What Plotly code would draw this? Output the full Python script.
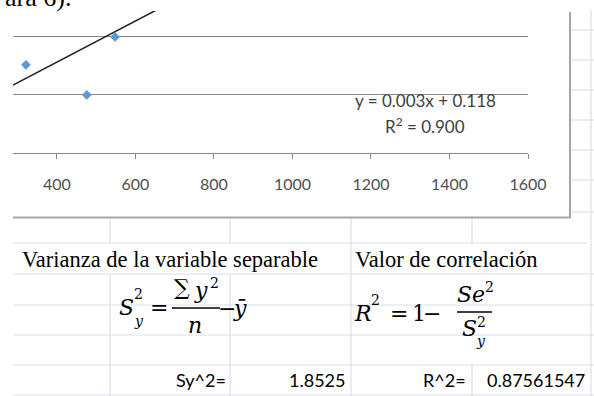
import plotly.graph_objects as go

# ---------------- data ----------------
x_points = [321, 476, 548]
y_points = [1.52, 1.0, 2.0]
trend_x = [288, 700]
trend_y = [1.17, 2.63]
x_ticks = [400, 600, 800, 1000, 1200, 1400, 1600]
y_grid = [1, 2]
eq_label = ["y = 0.003x + 0.118", "R<sup>2</sup> = 0.900"]
headers = ["Varianza de la variable separable", "Valor de correlación"]
result_labels = ["Sy^2=", "R^2="]
result_values = ["1.8525", "0.87561547"]
caption_fragment = "ara 6)."

W, H = 594, 396


def px(x):
    return x / W


def py(y):
    return 1 - y / H


fig = go.Figure()
fig.add_trace(go.Scatter(x=trend_x, y=trend_y, mode="lines",
                         line=dict(color="#262626", width=1.6),
                         hoverinfo="skip", showlegend=False))
fig.add_trace(go.Scatter(x=x_points, y=y_points, mode="markers",
                         marker=dict(symbol="diamond", size=7.5, color="#5B9BD5"),
                         hoverinfo="skip", showlegend=False))

fig.update_layout(
    width=W, height=H, autosize=False,
    margin=dict(l=0, r=0, t=0, b=0, pad=0, autoexpand=False),
    paper_bgcolor="white", plot_bgcolor="rgba(0,0,0,0)",
    showlegend=False,
    xaxis=dict(domain=[px(13), px(528)], range=[288, 1600],
               automargin=False,
               tickmode="array", tickvals=x_ticks,
               ticktext=[str(v) for v in x_ticks],
               showgrid=False, zeroline=False,
               showline=True, linecolor="#868686", linewidth=1,
               ticks="outside", ticklen=5, tickcolor="#868686", tickwidth=1,
               ticklabelstandoff=12,
               tickfont=dict(family="Lato", size=16, color="#505050")),
    yaxis=dict(domain=[py(153), py(11)], range=[0, 2.448],
               automargin=False,
               tickmode="array", tickvals=y_grid,
               showticklabels=False, ticks="",
               showgrid=True, gridcolor="#898989", gridwidth=1,
               zeroline=False, showline=False),
)

shapes = []
grid_c = "#dadfe9"


def hline(x0, x1, y, color=grid_c, w=1.2):
    shapes.append(dict(type="line", xref="paper", yref="paper",
                       x0=px(x0), x1=px(x1), y0=py(y), y1=py(y),
                       line=dict(color=color, width=w), layer="below"))


def vline(x, y0, y1, color=grid_c, w=1.2):
    shapes.append(dict(type="line", xref="paper", yref="paper",
                       x0=px(x), x1=px(x), y0=py(y0), y1=py(y1),
                       line=dict(color=color, width=w), layer="below"))


# spreadsheet grid to the right of the chart
for yy in [30, 60, 90, 120, 150, 180, 212]:
    hline(571, 594, yy)
vline(591, 10, 396)
# spreadsheet grid below the chart
hline(13, 587, 243)
for yy in [274, 305, 335, 365, 395]:
    hline(13, 594, yy)
vline(110, 218, 243)
vline(110, 274, 396)
vline(230, 218, 243)
vline(230, 274, 396)
vline(351, 218, 396)
vline(472, 218, 243)
vline(472, 365, 396)

# chart frame (right and bottom border)
shapes.append(dict(type="line", xref="paper", yref="paper",
                   x0=px(570), x1=px(570), y0=py(12), y1=py(218),
                   line=dict(color="#a6a6a6", width=2)))
shapes.append(dict(type="line", xref="paper", yref="paper",
                   x0=px(13), x1=px(571), y0=py(217.5), y1=py(217.5),
                   line=dict(color="#a6a6a6", width=2)))

# fraction bars
shapes.append(dict(type="line", xref="paper", yref="paper",
                   x0=px(172), x1=px(220), y0=py(308), y1=py(308),
                   line=dict(color="black", width=1.4)))
shapes.append(dict(type="line", xref="paper", yref="paper",
                   x0=px(457), x1=px(492), y0=py(312), y1=py(312),
                   line=dict(color="black", width=1.4)))
fig.update_layout(shapes=shapes)

ann = []


def text(t, x, y, size, family, color="black", xanchor="center", yanchor="middle"):
    ann.append(dict(text=t, x=px(x), y=py(y), xref="paper", yref="paper",
                    xanchor=xanchor, yanchor=yanchor, showarrow=False,
                    font=dict(family=family, size=size, color=color)))


calib = "Lato"
serif = "Liberation Serif"
math = "DejaVu Serif"

# caption fragment at top (cropped by the page edge)
text(caption_fragment, 73, -3, 26, serif, xanchor="right")

# trendline label
text(eq_label[0], 425, 101, 17, calib, color="#404040")
text(eq_label[1], 425, 126, 17, calib, color="#404040")

# headers
text(headers[0], 20, 259, 22.5, serif, xanchor="left")
text(headers[1], 353, 259, 22.5, serif, xanchor="left")

# formula 1
text("<i>S</i>", 126.5, 307, 22, math)
text("2", 138.5, 294, 14, math)
text("<i>y</i>", 138.5, 321, 14, math)
text("=", 158.5, 307, 22, math)
text("∑", 182, 287, 22, math)
text("<i>y</i>", 201, 290, 22, math)
text("2", 214, 283, 14, math)
text("<i>n</i>", 195, 325, 22, math)
text("−", 227, 308, 22, math)
text("<i>ȳ</i>", 240, 308, 22, math)

# formula 2
text("<i>R</i>", 362.5, 313, 22, math)
text("2", 375, 300, 14, math)
text("=", 398.5, 313, 22, math)
text("1", 419, 313, 22, math)
text("−", 432, 313, 22, math)
text("<i>Se</i>", 471, 294, 22, math)
text("2", 489.5, 287, 14, math)
text("<i>S</i>", 470, 328.5, 22, math)
text("2", 481.5, 322, 14, math)
text("<i>y</i>", 481.5, 341, 14, math)

# result row
text(result_labels[0], 228, 380, 18, calib, xanchor="right")
text(result_values[0], 347, 380, 18, calib, xanchor="right")
text(result_labels[1], 468, 380, 18, calib, xanchor="right")
text(result_values[1], 587, 380, 18, calib, xanchor="right")

fig.update_layout(annotations=ann)
fig.write_html("out.html", config={"displayModeBar": False},
               post_script="document.body.style.margin='0px';")
